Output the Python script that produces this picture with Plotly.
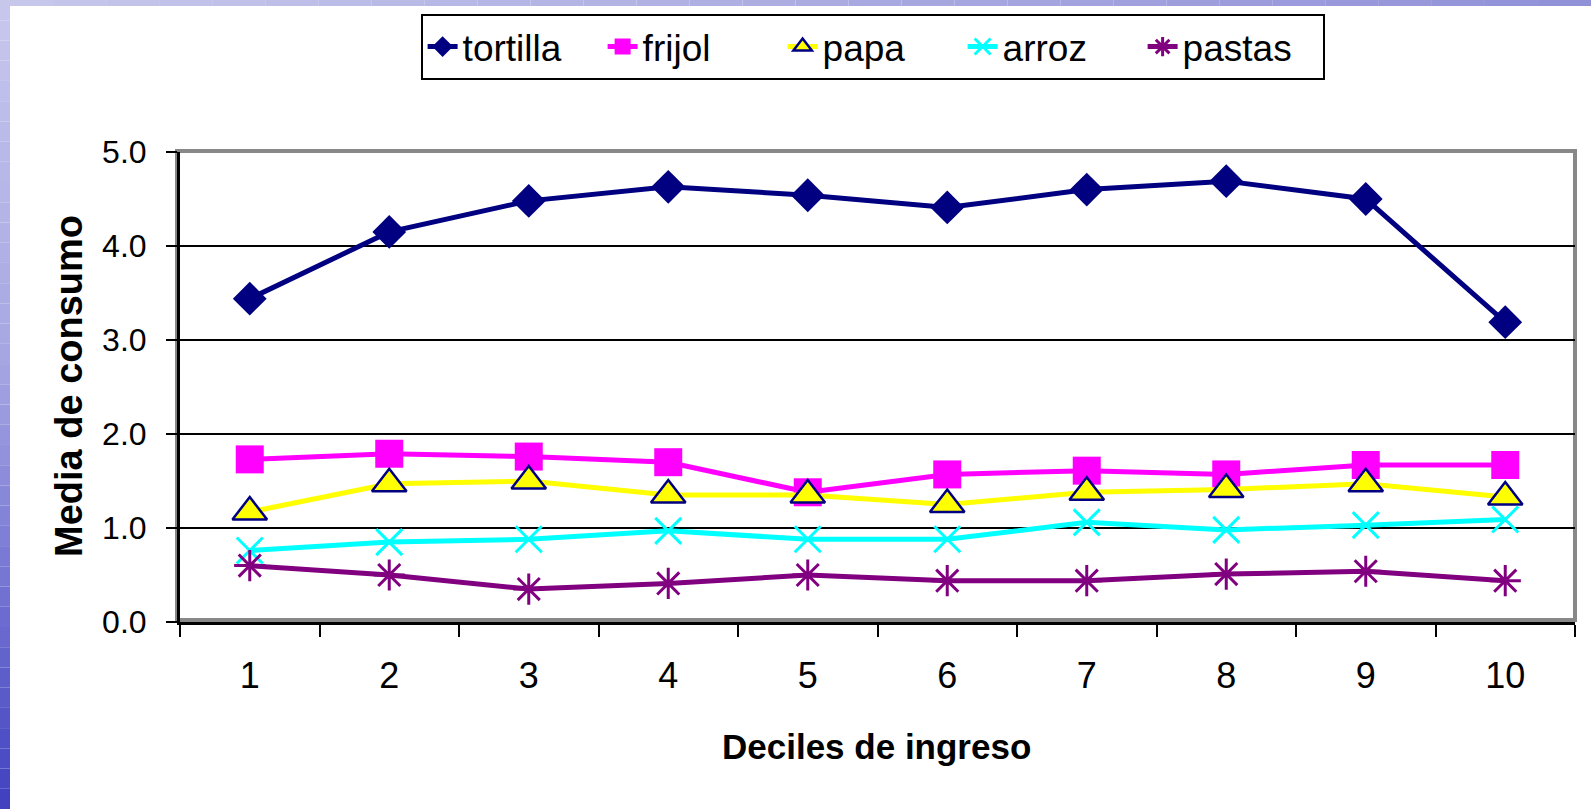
import plotly.graph_objects as go

# Household consumption means by income decile
deciles = ["1", "2", "3", "4", "5", "6", "7", "8", "9", "10"]
tortilla = [3.44, 4.15, 4.48, 4.63, 4.54, 4.41, 4.60, 4.69, 4.50, 3.19]
frijol = [1.73, 1.79, 1.76, 1.70, 1.38, 1.57, 1.61, 1.57, 1.67, 1.67]
papa = [1.17, 1.47, 1.50, 1.35, 1.35, 1.25, 1.38, 1.41, 1.47, 1.33]
arroz = [0.76, 0.85, 0.88, 0.97, 0.88, 0.88, 1.06, 0.98, 1.03, 1.09]
pastas = [0.60, 0.50, 0.35, 0.41, 0.50, 0.44, 0.44, 0.51, 0.54, 0.44]
y_ticks = [0, 1, 2, 3, 4, 5]
y_tick_text = ["0.0", "1.0", "2.0", "3.0", "4.0", "5.0"]

W, H = 1591, 809
ML, MR, MT, MB = 180, 16, 152, 187

NAVY = "#000080"
SANS = "Liberation Sans, Arial, sans-serif"

fig = go.Figure()

fig.add_trace(go.Scatter(
    x=deciles, y=tortilla, name="tortilla", mode="lines+markers",
    line=dict(color=NAVY, width=5),
    marker=dict(symbol="diamond", size=26, color=NAVY),
))
fig.add_trace(go.Scatter(
    x=deciles, y=frijol, name="frijol", mode="lines+markers",
    line=dict(color="#FF00FF", width=5),
    marker=dict(symbol="square", size=28, color="#FF00FF"),
))
fig.add_trace(go.Scatter(
    x=deciles, y=papa, name="papa", mode="lines+markers",
    line=dict(color="#FFFF00", width=5),
    marker=dict(symbol="triangle-up", size=30, color="#FFFF00",
                line=dict(color=NAVY, width=2.5)),
))
fig.add_trace(go.Scatter(
    x=deciles, y=arroz, name="arroz", mode="lines+markers",
    line=dict(color="#00FFFF", width=5),
    marker=dict(symbol="x-thin-open", size=26, color="#00FFFF",
                line=dict(color="#00FFFF", width=3)),
))
fig.add_trace(go.Scatter(
    x=deciles, y=pastas, name="pastas", mode="lines+markers",
    line=dict(color="#800080", width=5),
    marker=dict(symbol="asterisk-open", size=26, color="#800080",
                line=dict(color="#800080", width=3)),
))

pw = W - ML - MR
ph = H - MT - MB


def px_x(p):
    return (p - ML) / pw


def px_y(p):
    return 1 - (p - MT) / ph


def lerp(c1, c2, t):
    return "rgb(%d,%d,%d)" % tuple(round(a + (b - a) * t) for a, b in zip(c1, c2))


shapes = []
# slide background: textured blue strip on the left, lavender band on top
left_stops = [(0.0, (200, 200, 238)), (0.45, (165, 165, 226)), (0.7, (120, 120, 212)), (1.0, (64, 64, 192))]
n = 40
for i in range(n):
    t = (i + 0.5) / n
    for (t0, c0), (t1, c1) in zip(left_stops[:-1], left_stops[1:]):
        if t0 <= t <= t1:
            col = lerp(c0, c1, (t - t0) / (t1 - t0))
            break
    shapes.append(dict(type="rect", xref="paper", yref="paper",
                       x0=px_x(0), x1=px_x(10), y0=px_y(i * H / n), y1=px_y((i + 1) * H / n),
                       fillcolor=col, line_width=0, layer="below"))
m = 30
for i in range(m):
    t = (i + 0.5) / m
    shapes.append(dict(type="rect", xref="paper", yref="paper",
                       x0=px_x(i * W / m), x1=px_x((i + 1) * W / m), y0=px_y(0), y1=px_y(6),
                       fillcolor=lerp((200, 200, 236), (144, 144, 216), t), line_width=0, layer="below"))
# grey plot-area frame
shapes.append(dict(type="rect", xref="paper", yref="paper",
                   x0=px_x(177), x1=px_x(1575), y0=px_y(620), y1=px_y(151),
                   line=dict(color="#888888", width=4), fillcolor="rgba(0,0,0,0)", layer="below"))

fig.update_layout(
    width=W, height=H,
    margin=dict(l=ML, r=MR, t=MT, b=MB, autoexpand=False),
    paper_bgcolor="white", plot_bgcolor="white",
    shapes=shapes,
    showlegend=True,
    legend=dict(
        orientation="h", x=0.4965, xanchor="center", y=px_y(14), yanchor="top",
        bordercolor="black", borderwidth=2, bgcolor="white",
        font=dict(family=SANS, size=37, color="black"),
        itemsizing="trace", tracegroupgap=0,
        entrywidth=135, entrywidthmode="pixels",
    ),
    xaxis=dict(
        type="category", range=[-0.5, 9.5], tickson="boundaries",
        ticks="outside", ticklen=12, tickwidth=2, tickcolor="black",
        showline=True, linecolor="black", linewidth=3,
        showgrid=False, zeroline=False,
        tickfont=dict(family=SANS, size=36, color="black"),
        ticklabelstandoff=20,
    ),
    yaxis=dict(
        range=[0, 5], tickvals=y_ticks, ticktext=y_tick_text,
        ticks="outside", ticklen=11, tickwidth=2, tickcolor="black",
        showline=True, linecolor="black", linewidth=3,
        showgrid=True, gridcolor="black", gridwidth=2, zeroline=False,
        tickfont=dict(family=SANS, size=32, color="black"),
        ticklabelstandoff=13,
    ),
    annotations=[
        dict(text="Media de consumo", xref="paper", yref="paper",
             x=px_x(69), y=px_y(386), xanchor="center", yanchor="middle",
             textangle=-90, showarrow=False,
             font=dict(family=SANS, size=38, color="black", weight="bold")),
        dict(text="Deciles de ingreso", xref="paper", yref="paper",
             x=px_x(876), y=px_y(746), xanchor="center", yanchor="middle",
             showarrow=False,
             font=dict(family=SANS, size=35, color="black", weight="bold")),
    ],
)

fig.write_html("out.html")
